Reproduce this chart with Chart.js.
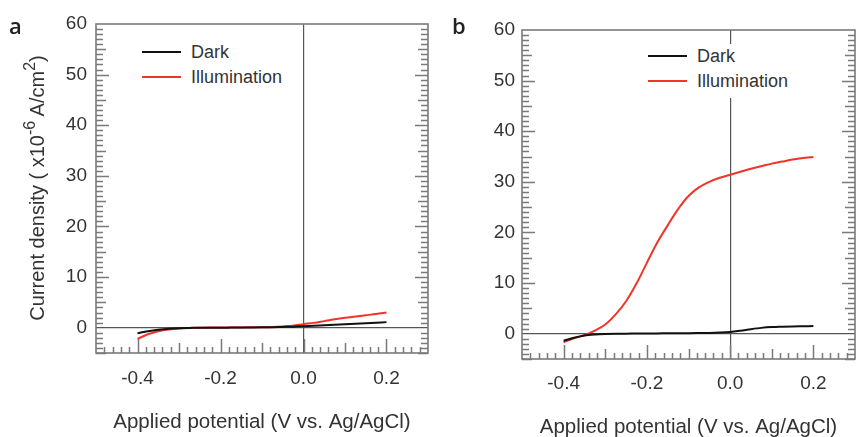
<!DOCTYPE html>
<html>
<head>
<meta charset="utf-8">
<script src="https://cdn.jsdelivr.net/npm/chart.js@4.4.1/dist/chart.umd.min.js"></script>
<style>
  html, body { margin: 0; padding: 0; background: #fff; overflow: hidden; }
  body { width: 859px; height: 437px; position: relative; font-family: 'Liberation Sans', Arial, sans-serif; color: #333; }
  .panel { position: absolute; top: 0; }
  .tag { position: absolute; font-family: 'Open Sans', sans-serif; font-weight: 600; font-size: 22px; color: #222; }
  .ytitle { position: absolute; width: 320px; height: 24px; line-height: 24px; text-align: center; font-size: 20px; transform: rotate(-90deg); white-space: nowrap; }
  .ytitle sup { font-size: 0.8em; vertical-align: 0.55em; line-height: 0; }
  .legend { position: absolute; background: #fff; font-size: 18px; }
  .legend .row { position: relative; height: 25px; line-height: 25px; white-space: nowrap; }
  .legend .swatch { display: inline-block; width: 39px; height: 0; border-top: 2px solid; vertical-align: middle; margin-right: 10px; position: relative; top: -1px; }
</style>
</head>
<body>
<div class="panel" style="left:0;width:430px;height:437px;"><canvas id="chartA" width="430" height="437"></canvas></div>
<div class="panel" style="left:430px;width:429px;height:445px;"><canvas id="chartB" width="429" height="445"></canvas></div>

<div class="tag" style="left:9px;top:10px;">a</div>
<div class="tag" style="left:452px;top:10px;">b</div>

<div class="ytitle" style="left:-123px;top:176px;">Current density ( x10<sup>-6</sup> A/cm<sup>2</sup>)</div>

<div class="legend" style="left:142px;top:40px;padding-right:6px;">
  <div class="row"><span class="swatch" style="border-color:#111;"></span>Dark</div>
  <div class="row"><span class="swatch" style="border-color:#f2332a;"></span>Illumination</div>
</div>
<div class="legend" style="left:648px;top:44px;padding-right:8px;padding-bottom:4px;">
  <div class="row"><span class="swatch" style="border-color:#111;"></span>Dark</div>
  <div class="row"><span class="swatch" style="border-color:#f2332a;"></span>Illumination</div>
</div>

<script>
// Potential values (V vs. Ag/AgCl)
const potential = [-0.40, -0.375, -0.35, -0.325, -0.30, -0.275, -0.25, -0.225, -0.20, -0.175, -0.15, -0.125,
  -0.10, -0.075, -0.05, -0.025, 0.00, 0.025, 0.05, 0.075, 0.10, 0.125, 0.15, 0.175, 0.20];

// Panel a (x10^-6 A/cm2)
const darkA = [-1.1, -0.7, -0.4, -0.2, -0.1, -0.05, 0.0, 0.0, 0.0, 0.02, 0.04, 0.06,
  0.08, 0.1, 0.15, 0.2, 0.3, 0.4, 0.5, 0.6, 0.7, 0.8, 0.9, 1.0, 1.1];
const lightA = [-2.2, -1.3, -0.7, -0.35, -0.15, -0.05, 0.0, 0.02, 0.03, 0.05, 0.06, 0.08,
  0.1, 0.15, 0.25, 0.4, 0.7, 0.95, 1.3, 1.65, 1.95, 2.2, 2.45, 2.7, 3.0];

// Panel b
const darkB = [-1.4, -0.8, -0.35, -0.15, -0.05, 0.0, 0.0, 0.05, 0.05, 0.05, 0.1, 0.1,
  0.1, 0.12, 0.15, 0.22, 0.35, 0.6, 0.9, 1.15, 1.3, 1.37, 1.42, 1.46, 1.5];
const lightB = [-1.7, -0.9, -0.3, 0.6, 1.8, 3.8, 6.4, 9.9, 14.0, 18.0, 21.4, 24.6,
  27.2, 28.9, 30.0, 30.8, 31.4, 32.0, 32.6, 33.1, 33.6, 34.0, 34.4, 34.7, 34.9];

// Axis ticks
const xTicks = [-0.4, -0.2, 0.0, 0.2];
const yTicks = [0, 10, 20, 30, 40, 50, 60];
const xRange = [-0.5, 0.3];
const yRange = [-5, 60];

const frameColor = '#7a7a7a';

// Inward frame ticks (minor / medium / major) and plot box
const frameTicks = {
    id: 'frameTicks',
    beforeDatasetsDraw(chart) {
        const { ctx, chartArea: a, scales: { x, y } } = chart;
        ctx.save();
        ctx.strokeStyle = frameColor;
        ctx.lineWidth = 1.5;
        ctx.beginPath();
        for (let i = -5; i < 60; i++) {
            if (i === 0) continue;
            const py = Math.round(y.getPixelForValue(i)) + 0.5;
            const len = i % 10 === 0 ? 13 : (i % 5 === 0 ? 10 : 7);
            ctx.moveTo(a.left, py); ctx.lineTo(a.left + len, py);
            ctx.moveTo(a.right, py); ctx.lineTo(a.right - len, py);
        }
        for (let k = -25; k <= 15; k++) {
            if (k === -25 || k === 15) continue;
            const px = Math.round(x.getPixelForValue(k * 0.02)) + 0.5;
            const len = k % 10 === 0 ? 14 : (k % 5 === 0 ? 10 : 6);
            ctx.moveTo(px, a.bottom); ctx.lineTo(px, a.bottom - len);
        }
        ctx.stroke();
        ctx.lineWidth = 1.6;
        ctx.strokeRect(a.left, a.top, a.right - a.left, a.bottom - a.top);
        ctx.restore();
    }
};

function makeChart(id, dark, light, opts) {
    const ctx = document.getElementById(id).getContext('2d');
    return new Chart(ctx, {
        type: 'line',
        data: {
            datasets: [
                { label: 'Dark', data: potential.map((v, i) => ({ x: v, y: dark[i] })), borderColor: '#111', borderWidth: 2, pointRadius: 0, cubicInterpolationMode: 'monotone' },
                { label: 'Illumination', data: potential.map((v, i) => ({ x: v, y: light[i] })), borderColor: '#f2332a', borderWidth: 2, pointRadius: 0, cubicInterpolationMode: 'monotone' }
            ]
        },
        options: {
            responsive: false,
            animation: false,
            events: [],
            layout: { padding: { left: 0, right: opts.padRight, top: opts.padTop, bottom: 0 } },
            plugins: { legend: { display: false }, tooltip: { enabled: false } },
            scales: {
                x: {
                    type: 'linear',
                    min: xRange[0], max: xRange[1],
                    afterBuildTicks: s => { s.ticks = xTicks.map(v => ({ value: v })); },
                    afterFit: s => { s.height = opts.xHeight; },
                    border: { display: false },
                    grid: { drawTicks: false, lineWidth: 1.2, color: c => (c.tick && c.tick.value === 0) ? '#555' : 'rgba(0,0,0,0)' },
                    ticks: { padding: opts.xPad, color: '#333', font: { family: "'Liberation Sans', Arial, sans-serif", size: 19 }, callback: v => v.toFixed(1) },
                    title: { display: true, text: 'Applied potential (V vs. Ag/AgCl)', color: '#333', font: { family: "'Liberation Sans', Arial, sans-serif", size: 20.5 }, padding: { top: 0, bottom: opts.titlePad } }
                },
                y: {
                    type: 'linear',
                    min: yRange[0], max: yRange[1],
                    afterBuildTicks: s => { s.ticks = yTicks.map(v => ({ value: v })); },
                    afterFit: s => { s.width = opts.yWidth; },
                    border: { display: false },
                    grid: { drawTicks: false, lineWidth: 1.2, color: c => (c.tick && c.tick.value === 0) ? '#555' : 'rgba(0,0,0,0)' },
                    ticks: { padding: opts.yPad, color: '#333', font: { family: "'Liberation Sans', Arial, sans-serif", size: 19 } }
                }
            }
        },
        plugins: [frameTicks]
    });
}

makeChart('chartA', darkA, lightA, { padRight: 2, padTop: 24, xHeight: 84, yWidth: 96, xPad: 14, yPad: 9, titlePad: 2 });
makeChart('chartB', darkB, lightB, { padRight: 4, padTop: 30, xHeight: 86, yWidth: 92, xPad: 13, yPad: 7, titlePad: 5 });
</script>
</body>
</html>
